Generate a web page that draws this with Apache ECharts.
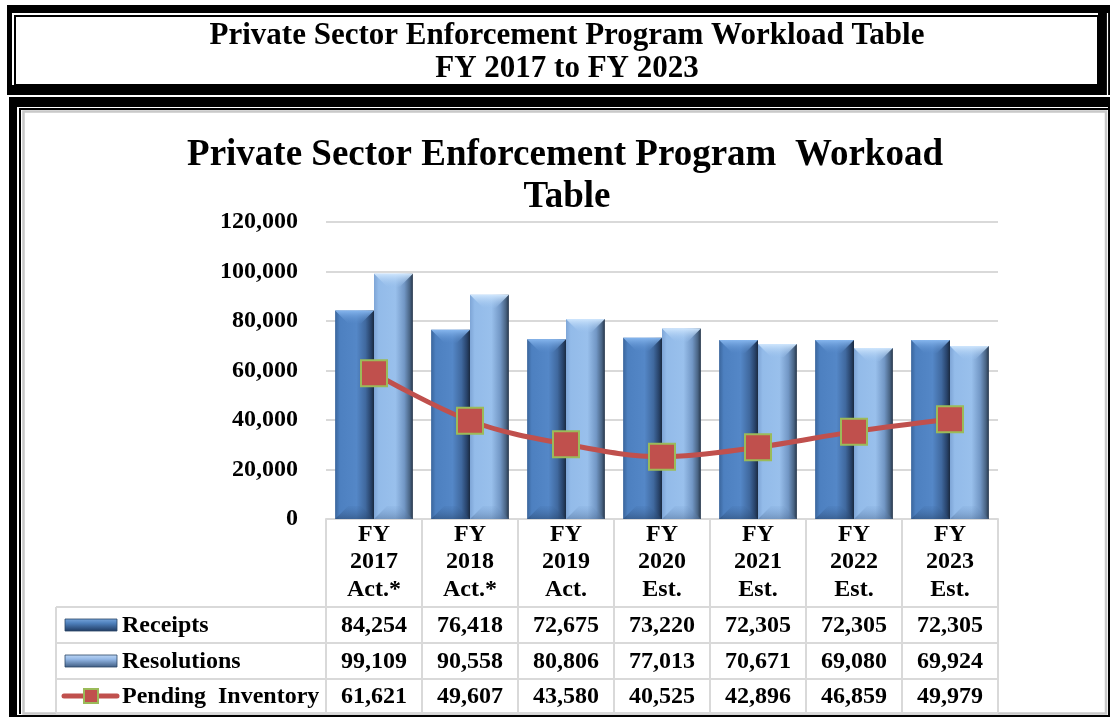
<!DOCTYPE html>
<html><head><meta charset="utf-8">
<script src="https://cdn.jsdelivr.net/npm/echarts@6/dist/echarts.min.js"></script>
<style>html,body{margin:0;padding:0;background:#fff}#c{width:1111px;height:719px}</style>
</head><body><div id="c"></div>
<script>
// ---- data ----
const categories = ['FY\n2017\nAct.*','FY\n2018\nAct.*','FY\n2019\nAct.','FY\n2020\nEst.','FY\n2021\nEst.','FY\n2022\nEst.','FY\n2023\nEst.'];
const receipts = [84254, 76418, 72675, 73220, 72305, 72305, 72305];
const resolutions = [99109, 90558, 80806, 77013, 70671, 69080, 69924];
const pendingInventory = [61621, 49607, 43580, 40525, 42896, 46859, 49979]; // values printed in the table
const pendingPlotted = [58900, 39700, 30200, 25200, 29000, 35300, 40300];   // line as drawn in the picture
const seriesNames = ['Receipts', 'Resolutions', 'Pending  Inventory'];
const yMin = 0, yMax = 120000, yInterval = 20000;
const pageTitle = ['Private Sector Enforcement Program Workload Table', 'FY 2017 to FY 2023'];
const chartTitle = ['Private Sector Enforcement Program  Workoad', 'Table'];

const FF = "'Liberation Serif','Times New Roman',serif";
const fmt = v => v.toLocaleString('en-US');
const GRAY = '#d9d9d9';
const CAT_GAP = 0.19;

const chart = echarts.init(document.getElementById('c'), null, {renderer: 'canvas'});

const hGrad = stops => ({type:'linear', x:0, y:0, x2:1, y2:0, colorStops: stops.map(([o, c]) => ({offset:o, color:c}))});
const vGrad = (a, b) => ({type:'linear', x:0, y:0, x2:0, y2:1, colorStops:[{offset:0, color:a}, {offset:1, color:b}]});
const receiptsGrad = hGrad([[0,'#3a659c'],[0.12,'#4d80c0'],[0.55,'#5487c7'],[0.78,'#40699f'],[0.92,'#28436a'],[1,'#1a2a40']]);
const resolGrad = hGrad([[0,'#7ea5d6'],[0.12,'#93bbe9'],[0.55,'#99c0ec'],[0.78,'#7297c5'],[0.92,'#4a6585'],[1,'#26364a']]);
const bevel = [
  {top: vGrad('#86b6ee', 'rgba(84,135,199,0.2)'), bot: vGrad('rgba(58,100,155,0.1)', 'rgba(40,70,110,0.55)')},
  {top: vGrad('#cfe6fd', 'rgba(153,192,236,0.2)'), bot: vGrad('rgba(110,150,200,0.1)', 'rgba(80,110,150,0.5)')}
];

const option = {
  animation: false,
  backgroundColor: '#fff',
  legend: {show: false},
  grid: {left: 326, right: 113, top: 222, bottom: 200, containLabel: false},
  xAxis: {
    type: 'category', data: categories, boundaryGap: true,
    axisLine: {lineStyle: {color: GRAY, width: 2}},
    axisTick: {show: true, length: 194, lineStyle: {color: GRAY, width: 2}},
    axisLabel: {margin: 2, color: '#000', fontFamily: FF, fontWeight: 'bold', fontSize: 24, lineHeight: 27.5}
  },
  yAxis: {
    type: 'value', min: yMin, max: yMax, interval: yInterval,
    axisLine: {show: false}, axisTick: {show: false},
    splitLine: {lineStyle: {color: GRAY, width: 2}},
    axisLabel: {margin: 28, color: '#000', fontFamily: FF, fontWeight: 'bold', fontSize: 24, formatter: v => fmt(v)}
  },
  series: [
    {name: seriesNames[0], type: 'bar', data: receipts, barGap: '0%', barCategoryGap: (CAT_GAP * 100) + '%',
     itemStyle: {color: receiptsGrad}, z: 2},
    {name: seriesNames[1], type: 'bar', data: resolutions, barGap: '0%', barCategoryGap: (CAT_GAP * 100) + '%',
     itemStyle: {color: resolGrad}, z: 2},
    {name: 'bevel', type: 'custom', z: 3, silent: true,
     data: categories.map((c, i) => [i, receipts[i], resolutions[i]]),
     encode: {x: 0, y: 1},
     renderItem: (params, api) => {
       const i = api.value(0);
       const catW = api.size([1, 0])[0];
       const bw = catW * (1 - CAT_GAP) / 2;
       const base = api.coord([i, 0]);
       const yb = base[1];
       const children = [];
       [[api.value(1), -1, bevel[0]], [api.value(2), 0, bevel[1]]].forEach(([v, k, b]) => {
         const yt = api.coord([i, v])[1];
         const x0 = base[0] + k * bw, x1 = x0 + bw;
         const d = Math.min(13, (yb - yt) / 2);
         children.push({type:'polygon', shape:{points:[[x0,yt],[x1,yt],[x1-d,yt+d],[x0+d,yt+d]]}, style:{fill:b.top}});
         children.push({type:'polygon', shape:{points:[[x0,yb],[x1,yb],[x1-d,yb-d],[x0+d,yb-d]]}, style:{fill:b.bot}});
       });
       return {type: 'group', children};
     }},
    {name: seriesNames[2], type: 'line', data: pendingPlotted, smooth: 0.35, z: 5,
     symbol: 'rect', symbolSize: 26,
     lineStyle: {color: '#c0504d', width: 5},
     itemStyle: {color: '#c0504d', borderColor: '#9bbb59', borderWidth: 2}}
  ]
};
chart.setOption(option);

// ---- frames, titles and data table (positions from the axis scale) ----
const xs = categories.map((c, i) => chart.convertToPixel({xAxisIndex: 0}, i));
const colW = xs.length > 1 ? xs[1] - xs[0] : 96;
const tableRight = xs[xs.length - 1] + colW / 2;
const tableLeft = 56;
const rowTops = [607, 643, 679, 713];
const g = [];
// top box
g.push({type:'rect', z:-5, shape:{x:7, y:5, width:1103, height:90}, style:{fill:'#000'}});
g.push({type:'rect', z:-5, shape:{x:12, y:13, width:1086, height:72}, style:{fill:'#fff'}});
g.push({type:'line', z:-5, shape:{x1:1107.5, y1:13, x2:1107.5, y2:95}, style:{stroke:'#fff', lineWidth:1.2}});
g.push({type:'rect', z:-5, shape:{x:15, y:16, width:1083, height:69}, style:{fill:'#fff', stroke:'#000', lineWidth:2}});
// second box
g.push({type:'rect', z:-6, shape:{x:9, y:97, width:1101, height:620}, style:{fill:'#000'}});
g.push({type:'rect', z:-5, shape:{x:17, y:107, width:1091, height:608}, style:{fill:'#fff'}});
g.push({type:'polyline', z:-5, shape:{points:[[20,714],[20,109],[1108,109]]}, style:{stroke:'#000', lineWidth:2, fill:null}});
g.push({type:'rect', z:-5, shape:{x:23.5, y:111.5, width:1082.5, height:602}, style:{fill:'#fff', stroke:'#c8c8c8', lineWidth:2.5}});
// titles
const tfont = s => 'bold ' + s + 'px ' + FF;
g.push({type:'text', z:10, x:567, y:36, style:{text:pageTitle[0], font:tfont(31), fill:'#000', align:'center', verticalAlign:'middle'}});
g.push({type:'text', z:10, x:567, y:69, style:{text:pageTitle[1], font:tfont(31), fill:'#000', align:'center', verticalAlign:'middle'}});
g.push({type:'text', z:10, x:565, y:155, style:{text:chartTitle[0], font:tfont(37), fill:'#000', align:'center', verticalAlign:'middle'}});
g.push({type:'text', z:10, x:567, y:197, style:{text:chartTitle[1], font:tfont(37), fill:'#000', align:'center', verticalAlign:'middle'}});
// table grid lines
rowTops.forEach(y => g.push({type:'line', z:1, shape:{x1:tableLeft, y1:y, x2:tableRight, y2:y}, style:{stroke:GRAY, lineWidth:2}}));
g.push({type:'line', z:1, shape:{x1:tableLeft, y1:rowTops[0], x2:tableLeft, y2:rowTops[3]}, style:{stroke:GRAY, lineWidth:2}});
// table rows
const rows = [receipts, resolutions, pendingInventory];
rows.forEach((arr, r) => {
  const cy = (rowTops[r] + rowTops[r + 1]) / 2 + 0.5;
  arr.forEach((v, i) => g.push({type:'text', z:10, x:xs[i], y:cy,
    style:{text:fmt(v), font:tfont(24), fill:'#000', align:'center', verticalAlign:'middle'}}));
  g.push({type:'text', z:10, x:122, y:cy, style:{text:seriesNames[r], font:tfont(24), fill:'#000', align:'left', verticalAlign:'middle'}});
});
// legend keys
const keyGrad = (a, b, c) => ({type:'linear', x:0, y:0, x2:0, y2:1, colorStops:[{offset:0, color:a}, {offset:0.35, color:b}, {offset:1, color:c}]});
[[keyGrad('#7aa7dc', '#4f81bd', '#1f3a60'), 0], [keyGrad('#c0d8f5', '#95b9e7', '#3d5a80'), 1]].forEach(([fill, r]) => {
  const cy = (rowTops[r] + rowTops[r + 1]) / 2;
  g.push({type:'rect', z:10, shape:{x:65, y:cy - 6, width:52, height:12}, style:{fill:fill, stroke:'#2a4466', lineWidth:0.8}});
});
{
  const cy = (rowTops[2] + rowTops[3]) / 2;
  g.push({type:'line', z:10, shape:{x1:64, y1:cy, x2:117, y2:cy}, style:{stroke:'#c0504d', lineWidth:5, lineCap:'round'}});
  g.push({type:'rect', z:11, shape:{x:84, y:cy - 7, width:14, height:14}, style:{fill:'#c0504d', stroke:'#9bbb59', lineWidth:2}});
}
chart.setOption({graphic: {elements: g}});
</script></body></html>
